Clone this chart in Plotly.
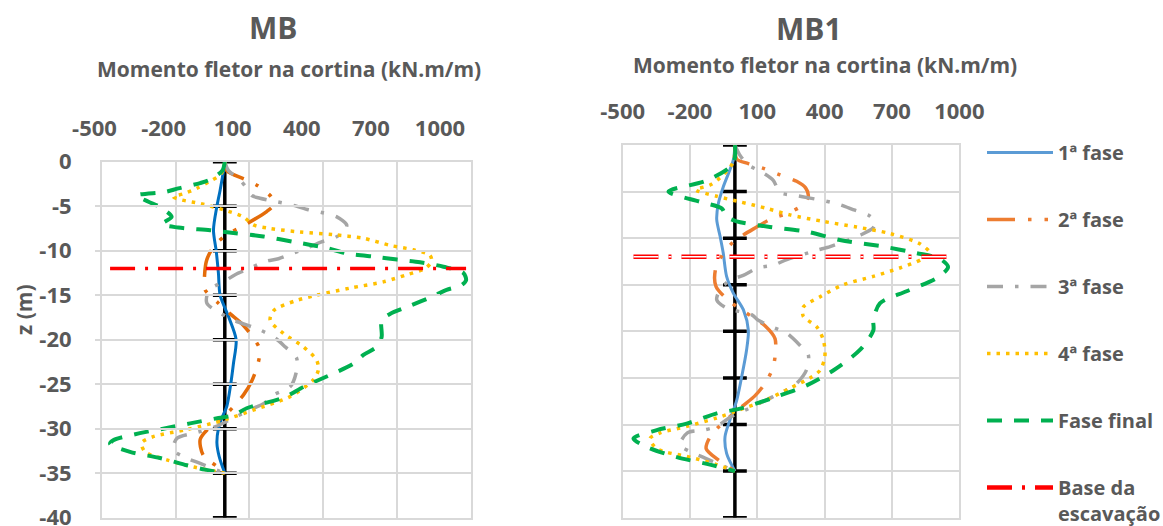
import plotly.graph_objects as go

# ---------------- data ----------------
X_TICKS = [-500, -200, 100, 400, 700, 1000]
X_TICK_TEXT = ["-500", "-200", "100", "400", "700", "1000"]
Z_TICKS = [0, -5, -10, -15, -20, -25, -30, -35, -40]
Z_TICK_TEXT = ["0", "-5", "-10", "-15", "-20", "-25", "-30", "-35", "-40"]

SERIES_NAMES = ["1ª fase", "2ª fase", "3ª fase", "4ª fase", "Fase final"]
BASE_NAME = "Base da<br>escavação"
BASE_Z_MB = -12.0
BASE_Z_MB1 = -12.0

# ---- MB (left) ----
mb_f1_z = [0, -1, -3.2, -5, -7.7, -10, -12.5, -15, -17.4, -20, -22.7, -25, -27.5, -28.8, -30, -31.6, -33.1, -35]
mb_f1_m = [0, -5, -19, -32, -46, -35, -26, -19, 15, 46, 35, 24, 8, -12, -26, -32, -23, 0]

mb_f2_z = [0, -1, -2, -2.7, -3.9, -4.8, -5.6, -7.3, -8.2, -9.4, -11, -12.7, -14.4, -15.8, -17.1,
           -18.4, -21, -22.8, -24.6, -26.2, -28.3, -29.8, -31.2, -33, -34.8, -35]
mb_f2_m = [0, 8, 82, 134, 187, 200, 170, 69, 8, -42, -73, -82, -80, -30, 22,
           76, 141, 134, 110, 76, 8, -60, -100, -87, -3, 0]

mb_f3_z = [0, -1, -2, -3, -3.8, -4.1, -4.5, -4.9, -5.4, -5.7, -6.2, -7.1, -7.6, -8.5, -9.0,
           -9.7, -10.3, -10.9, -11.2, -12.0, -12.7, -13.5, -14.4, -15.9, -17.0, -17.8, -18.9,
           -19.8, -20.8, -22.1, -23.8, -25.3, -26.2, -27.2, -27.7, -28.8, -29.8, -30.4, -31.1,
           -32.4, -33.3, -33.9, -35]
mb_f3_m = [0, 15, 60, 90, 110, 143, 211, 279, 340, 393, 455, 495, 490, 450, 393,
           333, 276, 218, 164, 100, 42, -5, -64, -73, -19, 35, 143,
           204, 245, 292, 289, 265, 198, 157, 116, 35, -40, -110, -195,
           -209, -155, -100, 0]

mb_f4_z = [0, -0.8, -1.5, -2.2, -3, -3.6, -3.95, -4.3, -4.7, -5.4, -6.2, -7.1, -7.5, -7.9, -8.2,
           -8.6, -9.4, -9.9, -10.5, -11.2, -12, -12.7, -13.5, -14.2, -15, -15.6, -16.7, -17.8,
           -19.3, -20.8, -22.3, -23.4, -24.5, -26.4, -27.9, -29, -30.1, -30.9, -31.6, -32.6,
           -33.5, -34.3, -35]
mb_f4_m = [0, -5, -19, -60, -114, -168, -209, -175, -100, -6, 75, 116, 184, 305, 441,
           563, 671, 766, 833, 840, 813, 739, 644, 509, 373, 290, 200, 184,
           238, 319, 373, 380, 360, 265, 116, 0, -155, -291, -338, -324,
           -236, -128, 0]

mb_ff_z = [0, -1, -2, -2.4, -3, -3.4, -3.8, -4.5, -5.1, -6.2, -7.0, -7.4, -7.7, -8.0, -8.4,
           -9.0, -9.7, -10.3, -10.7, -11.0, -11.3, -11.8, -12.5, -13.3, -13.9, -14.4, -15.1,
           -16.2, -17.1, -17.8, -19.7, -20.8, -21.7, -22.7, -23.8, -24.3, -25.3, -26.5, -27.7,
           -28.5, -28.8, -29.4, -30.0, -30.5, -31.3, -31.7, -32.6, -33.3, -34.1, -34.6, -35]
mb_ff_m = [0, -10, -60, -100, -189, -243, -358, -310, -263, -216, -256, -189, -60, 35, 157,
           278, 414, 495, 617, 700, 793, 888, 969, 980, 960, 901, 847,
           752, 671, 637, 637, 617, 563, 522, 441, 400, 320, 240, 89,
           35, -26, -141, -250, -345, -453, -466, -385, -263, -155, -80, 0]

# ---- MB1 (right) ----
mb1_f1_z = [0, -1.6, -4.5, -6.3, -8, -9.8, -11.6, -14.1, -15.9, -17.7, -19.9, -22, -24.9, -27.4, -29.5, -31.3, -33.1, -35]
mb1_f1_m = [0, -7, -52, -74, -81, -66, -52, -37, -7, 38, 60, 52, 30, 8, -22, -44, -37, 0]

mb1_f2_z = [0, -1.5, -2, -2.5, -3.2, -3.9, -4.6, -5.5, -6.4, -7.3, -7.9, -8.8, -10.4, -11.8, -13.4,
            -15.2, -16.8, -18.4, -19.4, -20.8, -23.8, -25.6, -26.9, -28.1, -30.1, -31.3, -32.6, -33.8, -35]
mb1_f2_m = [0, 8, 60, 127, 201, 275, 315, 327, 305, 238, 164, 97, -7, -56, -87,
            -84, -22, 74, 134, 179, 171, 134, 90, 30, -66, -110, -128, -74, 0]

mb1_f3_z = [0, -1, -2.1, -2.9, -3.8, -5.1, -5.4, -5.7, -6.0, -6.4, -7.0, -7.5, -8.2, -8.9, -9.7,
            -10.3, -10.9, -11.3, -11.8, -12.3, -12.9, -13.2, -14.0, -14.5, -15.5, -16.6, -17.5,
            -18.2, -18.8, -19.5, -20.2, -21.5, -22.5, -24.1, -25.7, -27.0, -28.3, -29.2, -30.2,
            -30.6, -30.9, -32.2, -32.9, -33.6, -35]
mb1_f3_m = [0, 20, 57, 119, 171, 201, 268, 335, 401, 468, 535, 594, 625, 616, 557,
            495, 424, 364, 297, 231, 171, 101, 37, -22, -65, -81, -37,
            74, 104, 164, 231, 290, 327, 320, 270, 170, 60, -20, -81,
            -141, -212, -245, -200, -133, 0]

mb1_f4_z = [0, -1.8, -3.2, -4.3, -4.8, -5.5, -6.1, -6.8, -7.5, -8.2, -8.8, -9.5, -10.6, -11.6, -12.3,
            -13.2, -14.1, -15, -16.3, -17.4, -18.4, -19.5, -20.9, -22.7, -24.2, -25, -26.1, -27.5,
            -28.4, -29.3, -30.2, -30.9, -31.5, -32.6, -33.5, -34.3, -35]
mb1_f4_m = [0, -7, -52, -111, -175, -81, 23, 141, 245, 394, 542, 691, 824, 869, 830,
            735, 617, 483, 379, 305, 305, 364, 394, 401, 379, 335, 246, 127,
            23, -81, -215, -333, -378, -348, -200, -81, 0]

mb1_ff_z = [0, -2, -3.8, -5, -6.1, -6.8, -7.7, -8.2, -8.8, -9.3, -10.2, -10.9, -11.6, -12.2, -13.1,
            -14.3, -15.7, -17, -18.8, -19.9, -22, -24.2, -25.8, -27, -28.3, -28.8, -29.9, -30.6,
            -31.5, -32.4, -33.5, -34.3, -35]
mb1_ff_m = [0, -7, -125, -296, -155, -59, -37, 8, 156, 320, 468, 661, 809, 913, 950,
            898, 765, 646, 617, 617, 557, 438, 320, 186, 23, -81, -215, -348,
            -452, -393, -259, -111, 0]

# ---------------- styling ----------------
W, H = 1163, 526
FONT = "Open Sans"
TXT = "#595959"
GRID = "#D9D9D9"

COLORS_MB = ["#0070C0", "#E46C0A", "#A5A5A5", "#FFC000", "#00B050"]
COLORS_MB1 = ["#5B9BD5", "#ED7D31", "#A5A5A5", "#FFC000", "#00B050"]
DASHES = ["solid", "28px,13px,3.5px,13px,3.5px,13px", "16px,12px,3.5px,12px", "3.5px,6px", "15px,12px"]
WIDTHS = [3, 3.5, 3.5, 3.5, 4]
RED_DASH = "25px,10px,3px,10px"


def px(x):
    return x / W


def py(y):
    return (H - y) / H


fig = go.Figure()

panels = [
    ("x", "y", [(mb_f1_z, mb_f1_m), (mb_f2_z, mb_f2_m), (mb_f3_z, mb_f3_m), (mb_f4_z, mb_f4_m), (mb_ff_z, mb_ff_m)],
     COLORS_MB, BASE_Z_MB, False),
    ("x2", "y2", [(mb1_f1_z, mb1_f1_m), (mb1_f2_z, mb1_f2_m), (mb1_f3_z, mb1_f3_m), (mb1_f4_z, mb1_f4_m), (mb1_ff_z, mb1_ff_m)],
     COLORS_MB1, BASE_Z_MB1, True),
]

for xa, ya, series, colors, base_z, legend in panels:
    # vertical axis at M = 0 with cross tick marks
    fig.add_trace(go.Scatter(
        x=[0] * len(Z_TICKS), y=Z_TICKS, xaxis=xa, yaxis=ya, mode="lines+markers",
        line=dict(color="black", width=3.5),
        marker=dict(symbol="line-ew", size=17, line=dict(color="black", width=3.5)),
        showlegend=False, hoverinfo="skip"))
    for i, (zs, ms) in enumerate(series):
        fig.add_trace(go.Scatter(
            x=ms, y=zs, xaxis=xa, yaxis=ya, mode="lines", name=SERIES_NAMES[i],
            line=dict(color=colors[i], width=WIDTHS[i], dash=DASHES[i], shape="spline", smoothing=0.8),
            showlegend=legend, legendgroup=SERIES_NAMES[i]))
    ff = series[-1][1]
    red_x = [min(ff), max(ff)]
    if legend:
        fig.add_trace(go.Scatter(
            x=red_x, y=[base_z, base_z], xaxis=xa, yaxis=ya, mode="lines", name=BASE_NAME,
            line=dict(color="#FF0000", width=4.5, dash=RED_DASH), showlegend=True, legendgroup="base"))
        fig.add_trace(go.Scatter(
            x=red_x, y=[base_z, base_z], xaxis=xa, yaxis=ya, mode="lines",
            line=dict(color="white", width=1.5, dash=RED_DASH), showlegend=False, hoverinfo="skip"))
    else:
        fig.add_trace(go.Scatter(
            x=red_x, y=[base_z, base_z], xaxis=xa, yaxis=ya, mode="lines", name=BASE_NAME,
            line=dict(color="#FF0000", width=3.5, dash=RED_DASH), showlegend=False))

# empty trace to host the tick-label-only axis of the left chart
fig.add_trace(go.Scatter(x=[], y=[], xaxis="x3", yaxis="y", showlegend=False, hoverinfo="skip"))

tickfont = dict(family=FONT, size=22, color=TXT, weight="bold")
grid_x = dict(range=[-500, 1000], tickvals=X_TICKS, showgrid=True, gridcolor=GRID, gridwidth=1.5,
              zeroline=False, showline=True, mirror=True, linecolor=GRID, linewidth=1.5)
grid_y = dict(range=[-40, 0], tickvals=Z_TICKS, showgrid=True, gridcolor=GRID, gridwidth=1.5,
              zeroline=False, showline=True, mirror=True, linecolor=GRID, linewidth=1.5)

Y_DOM_BOTTOM = py(517.7)

fig.update_layout(
    width=W, height=H, margin=dict(l=0, r=0, t=0, b=0, autoexpand=False),
    paper_bgcolor="white", plot_bgcolor="rgba(0,0,0,0)",
    font=dict(family=FONT, color=TXT, size=22),
    xaxis=dict(domain=[px(101.7), px(471)], anchor="y", showticklabels=False, **grid_x),
    xaxis3=dict(domain=[px(94.5), px(440)], anchor="y", side="top", range=[-500, 1000],
                tickvals=X_TICKS, ticktext=X_TICK_TEXT, showgrid=False, zeroline=False,
                showline=False, ticks="", tickfont=tickfont, ticklabelstandoff=20,
                ticklabeloverflow="allow"),
    yaxis=dict(domain=[Y_DOM_BOTTOM, py(161.7)], anchor="x", ticktext=Z_TICK_TEXT,
               tickfont=tickfont, ticks="", ticklabelstandoff=24, ticklabeloverflow="allow",
               **grid_y),
    xaxis2=dict(domain=[px(622.7), px(959.3)], anchor="y2", side="top", ticktext=X_TICK_TEXT,
                ticks="", tickfont=tickfont, ticklabelstandoff=15, ticklabeloverflow="allow", **grid_x),
    yaxis2=dict(domain=[Y_DOM_BOTTOM, py(145)], anchor="x2", showticklabels=False, **grid_y),
    legend=dict(x=px(982), y=py(133), xanchor="left", yanchor="top",
                font=dict(family=FONT, size=20, color=TXT, weight="bold"), tracegroupgap=38,
                itemwidth=66, valign="top", bgcolor="rgba(0,0,0,0)"),
    annotations=[
        dict(text="<b>MB</b>", x=px(272.5), y=py(27.5), xref="paper", yref="paper", showarrow=False,
             font=dict(family=FONT, size=30, color=TXT), xanchor="center", yanchor="middle"),
        dict(text="<b>Momento fletor na cortina (kN.m/m)</b>", x=px(288.5), y=py(69), xref="paper", yref="paper",
             showarrow=False, font=dict(family=FONT, size=21, color=TXT), xanchor="center", yanchor="middle"),
        dict(text="<b>MB1</b>", x=px(809), y=py(28), xref="paper", yref="paper", showarrow=False,
             font=dict(family=FONT, size=30, color=TXT), xanchor="center", yanchor="middle"),
        dict(text="<b>Momento fletor na cortina (kN.m/m)</b>", x=px(824.6), y=py(65), xref="paper", yref="paper",
             showarrow=False, font=dict(family=FONT, size=21, color=TXT), xanchor="center", yanchor="middle"),
        dict(text="<b>z (m)</b>", x=px(24), y=py(310), xref="paper", yref="paper", showarrow=False,
             textangle=-90, font=dict(family=FONT, size=21, color=TXT), xanchor="center", yanchor="middle"),
    ],
)

fig.write_html("out.html")
